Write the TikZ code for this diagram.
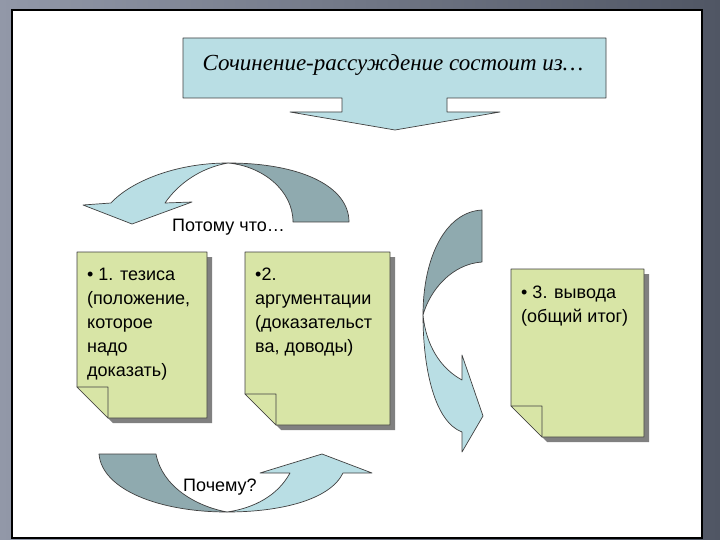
\documentclass[tikz,border=0pt]{standalone}
\usepackage{fontspec}
\setmainfont{Liberation Sans}
\newfontfamily\titlefont{Liberation Serif}
\usepackage{xcolor}
\definecolor{faceLight}{RGB}{185,222,228}
\definecolor{faceDark}{RGB}{143,170,175}
\definecolor{noteGreen}{RGB}{216,229,166}
\definecolor{frameLight}{RGB}{146,152,168}
\definecolor{frameDark}{RGB}{80,86,100}

\begin{document}
\begin{tikzpicture}[x=1pt, y=-1pt,
    outline/.style={draw=black!75, line width=0.7pt, line join=round},
    light/.style={outline, fill=faceLight},
    dark/.style={outline, fill=faceDark},
    every node/.style={inner sep=0pt, font=\fontsize{18}{24}\selectfont},
    notetext/.style={anchor=north west, align=left}]
    \useasboundingbox (0,0) rectangle (720,540);
    % slide frame
    \shade[left color=frameLight, right color=frameDark] (0,0) rectangle (720,540);
    \draw[fill=white, line width=2pt] (12,10) rectangle (702,538);
    % title callout
    \draw[light] (183,38) -- (606,38) -- (606,98) -- (447,98) -- (447,112) -- (500,112)
        -- (395,130) -- (290,112) -- (342,112) -- (342,98) -- (183,98) -- cycle;
    \node (title) at (393,65) {\titlefont\itshape\fontsize{23}{28}\selectfont Сочинение-рассуждение состоит из…};
    % top curved arrow
    \draw[dark] (349,222) .. controls (349,186) and (300,163) .. (228,163)
        .. controls (262,166) and (293,190) .. (293,222) -- cycle;
    \draw[light] (228,163) .. controls (175,163) and (130,182) .. (111,203) -- (83,205) -- (132,224)
        -- (192,202) -- (165,203) .. controls (178,184) and (200,168) .. (228,163) -- cycle;
    % right curved arrow
    \draw[dark] (482,210) .. controls (445,212) and (423,258) .. (423,315)
        .. controls (430,290) and (452,264) .. (482,262) -- cycle;
    \draw[light] (423,315) .. controls (423,370) and (435,422) .. (462,432) -- (462,452) -- (483,416)
        -- (462,355) -- (462,380) .. controls (440,368) and (426,345) .. (423,315) -- cycle;
    % bottom curved arrow
    \draw[dark] (99,454) .. controls (102,490) and (160,512) .. (227,512)
        .. controls (195,506) and (162,486) .. (156,454) -- cycle;
    \draw[light] (227,512) .. controls (280,512) and (330,500) .. (343,473) -- (372,473) -- (322,454)
        -- (260,473) -- (290,473) .. controls (278,495) and (255,508) .. (227,512) -- cycle;
    \node[anchor=west] (because) at (172,227) {Потому что…};
    \node[anchor=west] (why) at (183,487) {Почему?};
    % notes with folded corner
    \foreach \xa/\ya/\xb/\yb in {77/252/207/418, 245/252/390/425, 511/269/644/437} {
        \fill[gray, shift={(5,5)}] (\xa,\ya) -- (\xb,\ya) -- (\xb,\yb) -- (\xa+31,\yb) -- (\xa,\yb-31) -- cycle;
        \draw[outline, fill=noteGreen] (\xa,\ya) -- (\xb,\ya) -- (\xb,\yb) -- (\xa+31,\yb) -- (\xa,\yb-31) -- cycle;
        \draw[outline, fill=noteGreen] (\xa,\yb-31) -- (\xa+31,\yb-31) -- (\xa+31,\yb) -- cycle;
    }
    \node[notetext] (thesis) at (87,268) {• 1. тезиса\\(положение,\\которое\\надо\\доказать)};
    \node[notetext] (argument) at (255,268) {•2.\\аргументации\\(доказательст\\ва, доводы)};
    \node[notetext] (conclusion) at (521,286) {• 3. вывода\\(общий итог)};
\end{tikzpicture}
\end{document}
